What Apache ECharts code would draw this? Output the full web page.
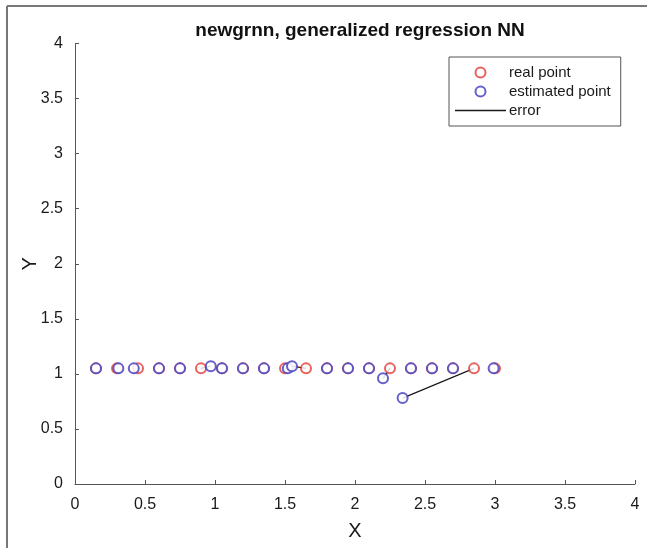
<!DOCTYPE html>
<html>
<head>
<meta charset="utf-8">
<script src="https://cdn.jsdelivr.net/npm/echarts@6/dist/echarts.min.js"></script>
<style>
  html, body { margin: 0; padding: 0; background: #fff; }
  #chart { width: 647px; height: 548px; }
</style>
</head>
<body>
<div id="chart"></div>
<script>
// real points
var realX = [0.15, 0.30, 0.45, 0.60, 0.75, 0.90, 1.05, 1.20, 1.35, 1.50, 1.65, 1.80, 1.95, 2.10, 2.25, 2.40, 2.55, 2.70, 2.85, 3.00];
var realY = [1.05, 1.05, 1.05, 1.05, 1.05, 1.05, 1.05, 1.05, 1.05, 1.05, 1.05, 1.05, 1.05, 1.05, 1.05, 1.05, 1.05, 1.05, 1.05, 1.05];
// estimated points
var estX = [0.15, 0.31, 0.42, 0.60, 0.75, 0.97, 1.05, 1.20, 1.35, 1.52, 1.55, 1.80, 1.95, 2.10, 2.20, 2.40, 2.55, 2.70, 2.34, 2.99];
var estY = [1.05, 1.05, 1.05, 1.05, 1.05, 1.07, 1.05, 1.05, 1.05, 1.05, 1.07, 1.05, 1.05, 1.05, 0.96, 1.05, 1.05, 1.05, 0.78, 1.05];

var axisTicks = [0, 0.5, 1, 1.5, 2, 2.5, 3, 3.5, 4];

var chart = echarts.init(document.getElementById('chart'));

var realData = [];
var estData = [];
for (var i = 0; i < realX.length; i++) {
	realData.push([realX[i], realY[i]]);
	estData.push([estX[i], estY[i]]);
}

// une série par segment d'erreur
var series = [];
for (var j = 0; j < realX.length; j++) {
	series.push({
		name: 'error',
		type: 'line',
		data: [[realX[j], realY[j]], [estX[j], estY[j]]],
		symbol: 'none',
		itemStyle: { color: '#222' },
		lineStyle: { color: '#1a1a1a', width: 1.2 },
		z: 3
	});
}
series.push({
	name: 'real point',
	type: 'scatter',
	data: realData,
	symbol: 'emptyCircle',
	symbolSize: 10,
	itemStyle: { color: '#e23a35', borderColor: '#e23a35', borderWidth: 1.6 },
	z: 4
});
series.push({
	name: 'estimated point',
	type: 'scatter',
	data: estData,
	symbol: 'emptyCircle',
	symbolSize: 10,
	itemStyle: { color: '#4a44c2', borderColor: '#4a44c2', borderWidth: 1.6, opacity: 0.85 },
	z: 5
});

var axisCommon = {
	type: 'value',
	min: 0,
	max: 4,
	interval: 0.5,
	splitLine: { show: false },
	axisLine: { onZero: false, lineStyle: { color: '#555', width: 1 } },
	axisTick: { inside: true, length: 4, lineStyle: { color: '#555' } },
	axisLabel: {
		color: '#1a1a1a',
		fontSize: 16,
		fontFamily: 'Liberation Sans, Arial',
		formatter: function (v) { return axisTicks.indexOf(v) >= 0 ? String(v) : ''; }
	},
	nameTextStyle: { color: '#1a1a1a', fontSize: 20, fontFamily: 'Liberation Sans, Arial' }
};

var option = {
	animation: false,
	backgroundColor: '#fff',
	title: {
		text: 'newgrnn, generalized regression NN',
		left: 355,
		textAlign: 'center',
		top: 16,
		textStyle: { fontSize: 19, fontWeight: 'bold', color: '#111', fontFamily: 'Liberation Sans, Arial' }
	},
	legend: {
		data: [
			'real point',
			'estimated point',
			{ name: 'error', icon: 'path://M0,0 L51,0 L51,1.4 L0,1.4 Z', itemStyle: { color: '#1a1a1a' } }
		],
		orient: 'vertical',
		left: 449,
		top: 57,
		itemWidth: 51,
		itemHeight: 10,
		itemGap: 4,
		padding: [8, 10, 8, 6],
		backgroundColor: '#fff',
		borderColor: '#555',
		borderWidth: 1,
		borderRadius: 0,
		textStyle: { fontSize: 15, color: '#1a1a1a', fontFamily: 'Liberation Sans, Arial', padding: [0, 0, 0, -2] }
	},
	grid: { left: 75, right: 12, top: 43.5, bottom: 64 },
	xAxis: Object.assign({}, axisCommon, {
		name: 'X',
		nameLocation: 'middle',
		nameGap: 37,
		nameMoveOverlap: false,
		axisLabel: Object.assign({}, axisCommon.axisLabel, { margin: 13 })
	}),
	yAxis: Object.assign({}, axisCommon, {
		name: 'Y',
		nameLocation: 'middle',
		nameRotate: 90,
		nameGap: 35,
		nameMoveOverlap: false,
		axisLabel: Object.assign({}, axisCommon.axisLabel, { margin: 12 })
	}),
	graphic: [
		{ type: 'line', shape: { x1: 7, y1: 6, x2: 647, y2: 6 }, style: { stroke: '#777', lineWidth: 2 } },
		{ type: 'line', shape: { x1: 7, y1: 6, x2: 7, y2: 548 }, style: { stroke: '#777', lineWidth: 2 } }
	],
	series: series
};

chart.setOption(option);
</script>
</body>
</html>
